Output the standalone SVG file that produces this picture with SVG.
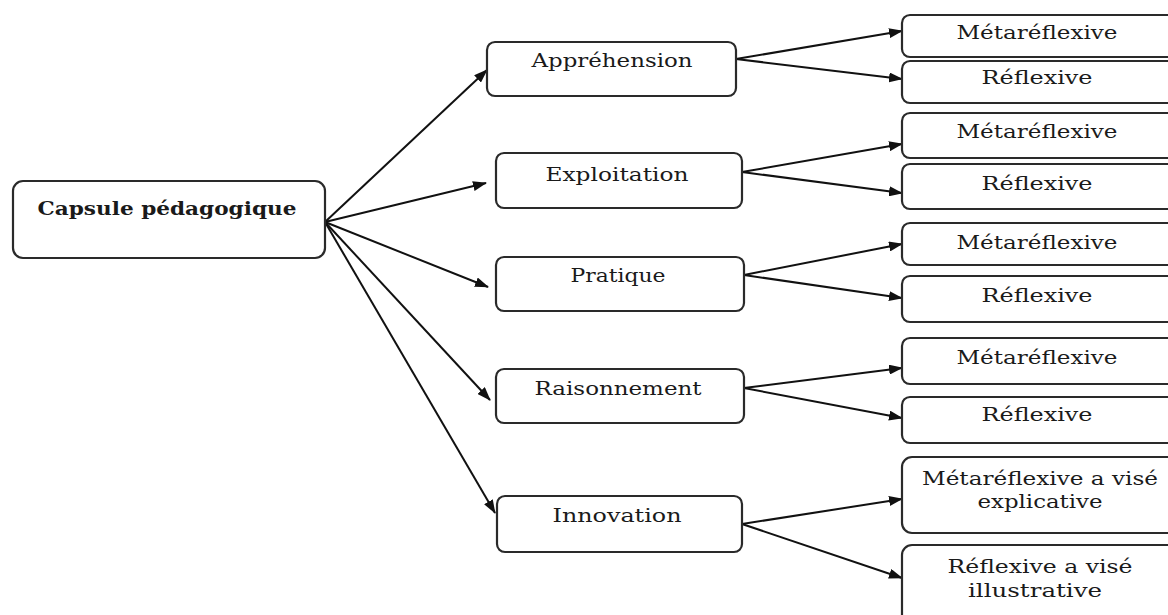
<svg xmlns="http://www.w3.org/2000/svg" width="1168" height="615" viewBox="0 0 1168 615">
<style>
.box{fill:#fff;stroke:#2a2a2a;stroke-width:2.2}
.t{font-family:"DejaVu Serif","Liberation Serif",serif;font-size:19px;fill:#1a1a1a;text-anchor:middle}
.b{font-weight:bold;font-size:19px}
.c{stroke:#111;stroke-width:2;fill:none;marker-end:url(#ah)}
</style>
<defs>
<marker id="ah" markerUnits="userSpaceOnUse" markerWidth="14" markerHeight="10" refX="13" refY="5" orient="auto">
<path d="M0,0 L14,5 L0,10 Z" fill="#111"/>
</marker>
</defs>
<g id="connectors">
<line class="c" x1="325" y1="222" x2="487" y2="70"/>
<line class="c" x1="325" y1="222" x2="486" y2="183"/>
<line class="c" x1="325" y1="222" x2="488" y2="287"/>
<line class="c" x1="325" y1="222" x2="490" y2="400"/>
<line class="c" x1="325" y1="222" x2="495" y2="513"/>
<line class="c" x1="736" y1="59" x2="902" y2="31"/>
<line class="c" x1="736" y1="59" x2="902" y2="79"/>
<line class="c" x1="742" y1="172" x2="902" y2="144"/>
<line class="c" x1="742" y1="172" x2="902" y2="193"/>
<line class="c" x1="744" y1="275" x2="902" y2="244"/>
<line class="c" x1="744" y1="275" x2="902" y2="298"/>
<line class="c" x1="744" y1="388" x2="902" y2="368"/>
<line class="c" x1="744" y1="388" x2="902" y2="418"/>
<line class="c" x1="742" y1="524" x2="902" y2="499"/>
<line class="c" x1="742" y1="524" x2="902" y2="578"/>
</g>
<g id="capsule"><rect class="box" x="13" y="181" width="312" height="77" rx="10"/><text class="t b" x="167" y="215" textLength="259" lengthAdjust="spacingAndGlyphs">Capsule pédagogique</text></g>
<g id="apprehension"><rect class="box" x="487" y="42" width="249" height="54" rx="8"/><text class="t" x="612" y="67" textLength="161" lengthAdjust="spacingAndGlyphs">Appréhension</text></g>
<g id="exploitation"><rect class="box" x="496" y="153" width="246" height="55" rx="8"/><text class="t" x="617" y="181" textLength="143" lengthAdjust="spacingAndGlyphs">Exploitation</text></g>
<g id="pratique"><rect class="box" x="496" y="257" width="248" height="54" rx="8"/><text class="t" x="618" y="282" textLength="95" lengthAdjust="spacingAndGlyphs">Pratique</text></g>
<g id="raisonnement"><rect class="box" x="496" y="369" width="248" height="54" rx="8"/><text class="t" x="618" y="395" textLength="167" lengthAdjust="spacingAndGlyphs">Raisonnement</text></g>
<g id="innovation"><rect class="box" x="497" y="496" width="245" height="56" rx="8"/><text class="t" x="617" y="522" textLength="129" lengthAdjust="spacingAndGlyphs">Innovation</text></g>
<g id="meta1"><rect class="box" x="902" y="15" width="280" height="42" rx="8"/><text class="t" x="1037" y="39" textLength="161" lengthAdjust="spacingAndGlyphs">Métaréflexive</text></g>
<g id="refl1"><rect class="box" x="902" y="61" width="280" height="42" rx="8"/><text class="t" x="1037" y="84" textLength="111" lengthAdjust="spacingAndGlyphs">Réflexive</text></g>
<g id="meta2"><rect class="box" x="902" y="113" width="280" height="45" rx="8"/><text class="t" x="1037" y="138" textLength="161" lengthAdjust="spacingAndGlyphs">Métaréflexive</text></g>
<g id="refl2"><rect class="box" x="902" y="164" width="280" height="45" rx="8"/><text class="t" x="1037" y="190" textLength="111" lengthAdjust="spacingAndGlyphs">Réflexive</text></g>
<g id="meta3"><rect class="box" x="902" y="223" width="280" height="42" rx="8"/><text class="t" x="1037" y="249" textLength="161" lengthAdjust="spacingAndGlyphs">Métaréflexive</text></g>
<g id="refl3"><rect class="box" x="902" y="276" width="280" height="46" rx="8"/><text class="t" x="1037" y="302" textLength="111" lengthAdjust="spacingAndGlyphs">Réflexive</text></g>
<g id="meta4"><rect class="box" x="902" y="338" width="280" height="46" rx="8"/><text class="t" x="1037" y="364" textLength="161" lengthAdjust="spacingAndGlyphs">Métaréflexive</text></g>
<g id="refl4"><rect class="box" x="902" y="397" width="280" height="46" rx="8"/><text class="t" x="1037" y="421" textLength="111" lengthAdjust="spacingAndGlyphs">Réflexive</text></g>
<g id="meta5"><rect class="box" x="902" y="457" width="280" height="76" rx="10"/><text class="t" x="1040" y="485" textLength="236" lengthAdjust="spacingAndGlyphs">Métaréflexive a visé</text><text class="t" x="1040" y="508" textLength="125" lengthAdjust="spacingAndGlyphs">explicative</text></g>
<g id="refl5"><rect class="box" x="902" y="545" width="280" height="80" rx="10"/><text class="t" x="1040" y="573" textLength="185" lengthAdjust="spacingAndGlyphs">Réflexive a visé</text><text class="t" x="1035" y="597" textLength="134" lengthAdjust="spacingAndGlyphs">illustrative</text></g>
</svg>
